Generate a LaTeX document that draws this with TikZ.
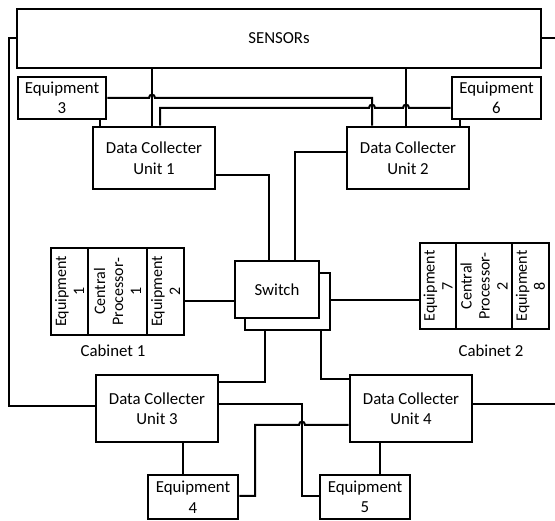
\documentclass[tikz,border=0pt]{standalone}
\usepackage{fontspec}
\setmainfont{Carlito}
\begin{document}
\begin{tikzpicture}[x=1pt,y=-1pt,
  box/.style={draw, line width=2.7pt, fill=white, inner sep=0pt, align=center,
    font=\fontsize{16.8}{20.5}\selectfont},
  rot/.style={box, rotate=90, font=\fontsize{16}{18}\selectfont},
  wire/.style={line width=2pt},
  caption/.style={font=\fontsize{16.8}{20.5}\selectfont, inner sep=0pt}]
\useasboundingbox (0,0) rectangle (555,521);

% top row
\node[box, minimum width=524pt, minimum height=59pt] (sensors) at (279,38.5) {SENSORs};
\node[box, minimum width=88pt, minimum height=42pt] (eq3) at (62,98) {Equipment\\3};
\node[box, minimum width=89pt, minimum height=42pt] (eq6) at (496.5,98) {Equipment\\6};
\node[box, minimum width=122pt, minimum height=62pt] (dcu1) at (154,158) {Data Collecter\\Unit 1};
\node[box, minimum width=122pt, minimum height=62pt] (dcu2) at (408,158) {Data Collecter\\Unit 2};

% switch (stacked)
\node[box, minimum width=85pt, minimum height=57pt] (back) at (287.5,301.5) {};
\node[box, minimum width=84pt, minimum height=57pt] (front) at (277,289.5) {Switch};

% cabinet 1
\node[rot, minimum width=87pt, minimum height=37pt] (eq1) at (69.5,291.5) {Equipment\\1};
\node[rot, minimum width=87pt, minimum height=59pt] (cp1) at (117.5,291.5) {Central\\Processor-\\1};
\node[rot, minimum width=87pt, minimum height=37pt] (eq2) at (165.5,291.5) {Equipment\\2};
\node[caption] (cab1) at (113,351) {Cabinet 1};

% cabinet 2
\node[rot, minimum width=86pt, minimum height=36pt] (eq7) at (438,286) {Equipment\\7};
\node[rot, minimum width=86pt, minimum height=56pt] (cp2) at (484,286) {Central\\Processor-\\2};
\node[rot, minimum width=86pt, minimum height=37pt] (eq8) at (530.5,286) {Equipment\\8};
\node[caption] (cab2) at (491,351) {Cabinet 2};

% bottom row
\node[box, minimum width=122pt, minimum height=67pt] (dcu3) at (157,408.5) {Data Collecter\\Unit 3};
\node[box, minimum width=122pt, minimum height=67pt] (dcu4) at (411,408.5) {Data Collecter\\Unit 4};
\node[box, minimum width=90pt, minimum height=44pt] (eq4) at (193,497) {Equipment\\4};
\node[box, minimum width=90pt, minimum height=44pt] (eq5) at (365,497) {Equipment\\5};

% loose ends at the right border
\coordinate (redge1) at (555,38.5);
\coordinate (redge2) at (555,404);

% outer loop and right-hand stubs
\draw[wire] (sensors.west) -- (9,38.5) -- (9,406) -- (dcu3.west |- 0,406);
\draw[wire] (sensors.east) -- (redge1);
\draw[wire] (dcu4.east |- 0,404) -- (redge2);

% sensors to collecters
\draw[wire] (sensors.south -| 152,0) -- (dcu1.north -| 152,0);
\draw[wire] (sensors.south -| 406,0) -- (dcu2.north -| 406,0);

% equipment links in the upper half (with line hops)
\draw[wire] (eq3.east |- 0,98) -- (149,98) .. controls (149,93.5) and (155,93.5) .. (155,98)
  -- (372,98) -- (dcu2.north -| 372,0);
\draw[wire] (dcu1.north -| 160,0) -- (160,108) -- (369,108)
  .. controls (369,103.5) and (375,103.5) .. (375,108) -- (403,108)
  .. controls (403,103.5) and (409,103.5) .. (409,108) -- (eq6.west |- 0,108);
\draw[wire] (eq3.south -| 100,0) -- (dcu1.north -| 100,0);
\draw[wire] (eq6.south -| 460,0) -- (dcu2.north -| 460,0);

% collecters to switch
\draw[wire] (dcu1.east |- 0,175) -- (269,175) -- (front.north -| 269,0);
\draw[wire] (dcu2.west |- 0,152) -- (295,152) -- (front.north -| 295,0);
\draw[wire] (back.south -| 265,0) -- (265,382) -- (dcu3.east |- 0,382);
\draw[wire] (back.south -| 321,0) -- (321,379) -- (dcu4.west |- 0,379);

% cabinets to switch
\draw[wire] (eq2.south |- 0,301) -- (front.west |- 0,301);
\draw[wire] (back.east |- 0,300) -- (eq7.north |- 0,300);

% equipment links in the lower half
\draw[wire] (dcu3.east |- 0,404) -- (302,404) -- (302,496) -- (eq5.west |- 0,496);
\draw[wire] (dcu4.west |- 0,425) -- (305,425) .. controls (305,420.5) and (299,420.5) .. (299,425)
  -- (255,425) -- (255,496) -- (eq4.east |- 0,496);
\draw[wire] (dcu3.south -| 183,0) -- (eq4.north -| 183,0);
\draw[wire] (dcu4.south -| 380,0) -- (eq5.north -| 380,0);
\end{tikzpicture}
\end{document}
